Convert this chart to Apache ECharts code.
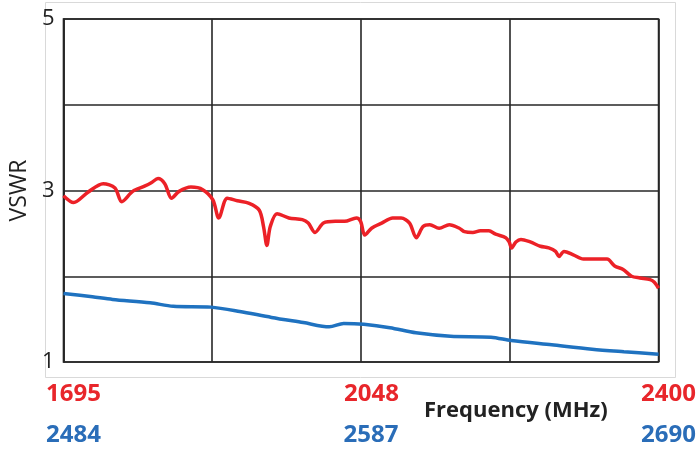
<!DOCTYPE html>
<html>
<head>
<meta charset="utf-8">
<script src="https://cdn.jsdelivr.net/npm/echarts@6/dist/echarts.min.js"></script>
<style>
html,body{margin:0;padding:0;background:#fff;}
#chart{width:699px;height:452px;}
</style>
</head>
<body>
<div id="chart"></div>
<script>
// Red band (1695–2400 MHz): [frequency, VSWR]
var redFreq = [1695,1707,1724,1742,1756,1764,1777,1791,1799,1807,1815,1823,1832,1846,1860,1872,1879,1889,1901,1915,1927,1932,1936,1940,1948,1962,1978,1985,1993,2003,2017,2028,2042,2047,2052,2060,2072,2085,2095,2105,2113,2121,2129,2140,2152,2164,2170,2180,2189,2199,2207,2219,2223,2226,2231,2237,2248,2260,2270,2278,2282,2288,2299,2311,2323,2339,2348,2358,2368,2378,2390,2395,2400];
var redVswr = [2.94,2.86,2.98,3.08,3.03,2.87,2.99,3.05,3.09,3.14,3.08,2.91,2.99,3.04,3.01,2.89,2.68,2.91,2.88,2.85,2.77,2.58,2.36,2.58,2.73,2.68,2.66,2.62,2.51,2.62,2.64,2.64,2.68,2.64,2.48,2.56,2.62,2.68,2.68,2.62,2.45,2.58,2.60,2.56,2.60,2.56,2.52,2.51,2.53,2.53,2.49,2.45,2.40,2.33,2.40,2.43,2.40,2.35,2.33,2.29,2.23,2.29,2.25,2.20,2.20,2.20,2.12,2.08,2.00,1.98,1.96,1.93,1.86];
// Blue band (2484–2690 MHz)
var blueFreq = [2484,2494,2501,2514,2522,2535,2545,2556,2567,2576,2581,2588,2597,2606,2618,2632,2639,2653,2667,2678,2690];
var blueVswr = [1.80,1.76,1.73,1.69,1.65,1.64,1.59,1.52,1.46,1.41,1.45,1.44,1.40,1.34,1.30,1.29,1.25,1.20,1.15,1.12,1.09];
// Tick labels
var redTicks = [1695, 2048, 2400];
var blueTicks = [2484, 2587, 2690];
var yTicks = [1, 3, 5];
var yName = 'VSWR';
var xName = 'Frequency (MHz)';

function zip(a, b){ return a.map(function(v,i){ return [v, b[i]]; }); }
function plain(v){ return String(v); }

var RED = '#ec2127', BLUE = '#1f72c0', LRED = '#e8262b', LBLUE = '#2a6db8', DARK = '#262626';
var chart = echarts.init(document.getElementById('chart'), null, {renderer:'canvas'});
chart.setOption({
  animation:false,
  backgroundColor:'#fff',
  grid:{left:60, top:19, right:40, bottom:90, show:true, borderColor:DARK, borderWidth:1.6, backgroundColor:'transparent'},
  graphic:[
    {type:'rect', shape:{x:45.5, y:2.5, width:630, height:375}, style:{fill:'none', stroke:'#d9d9d9', lineWidth:1}, z:-10, silent:true},
    {type:'text', left:424, top:400, style:{text:xName, fontFamily:'Open Sans', fontWeight:'bold', fontSize:22, fill:'#222'}}
  ],
  xAxis:[
    {type:'value', min:1695, max:2400, position:'bottom',
     axisLine:{show:false}, axisTick:{show:false}, splitLine:{show:false},
     axisLabel:{customValues:redTicks, formatter:plain, color:LRED, fontFamily:'Open Sans', fontWeight:'bold', fontSize:24, margin:20, padding:[0,0,0,20], showMinLabel:true, showMaxLabel:true}},
    {type:'value', min:2484, max:2690, position:'bottom', offset:41,
     axisLine:{show:false}, axisTick:{show:false}, splitLine:{show:false},
     axisLabel:{customValues:blueTicks, formatter:plain, color:LBLUE, fontFamily:'Open Sans', fontWeight:'bold', fontSize:24, margin:20, padding:[0,0,0,20], showMinLabel:true, showMaxLabel:true}},
    {type:'value', min:0, max:4, interval:1, position:'bottom',
     axisLine:{show:false}, axisTick:{show:false}, axisLabel:{show:false},
     splitLine:{show:true, lineStyle:{color:DARK, width:1.6}}}
  ],
  yAxis:{type:'value', min:1, max:5, interval:1,
    name:yName, nameLocation:'middle', nameGap:30, nameRotate:90,
    nameTextStyle:{fontFamily:'Open Sans', fontSize:23, color:'#222'},
    axisLine:{show:true, lineStyle:{color:DARK, width:1.6}}, axisTick:{show:false},
    axisLabel:{customValues:yTicks, formatter:plain, fontFamily:'Open Sans', fontSize:22, color:'#222', margin:9},
    splitLine:{show:true, lineStyle:{color:DARK, width:1.6}}},
  series:[
    {type:'line', xAxisIndex:0, data:zip(redFreq, redVswr), smooth:0.3, showSymbol:false, lineStyle:{color:RED, width:3.5}, z:3},
    {type:'line', xAxisIndex:1, data:zip(blueFreq, blueVswr), smooth:0.3, showSymbol:false, lineStyle:{color:BLUE, width:3.5}, z:3}
  ]
});
</script>
</body>
</html>
